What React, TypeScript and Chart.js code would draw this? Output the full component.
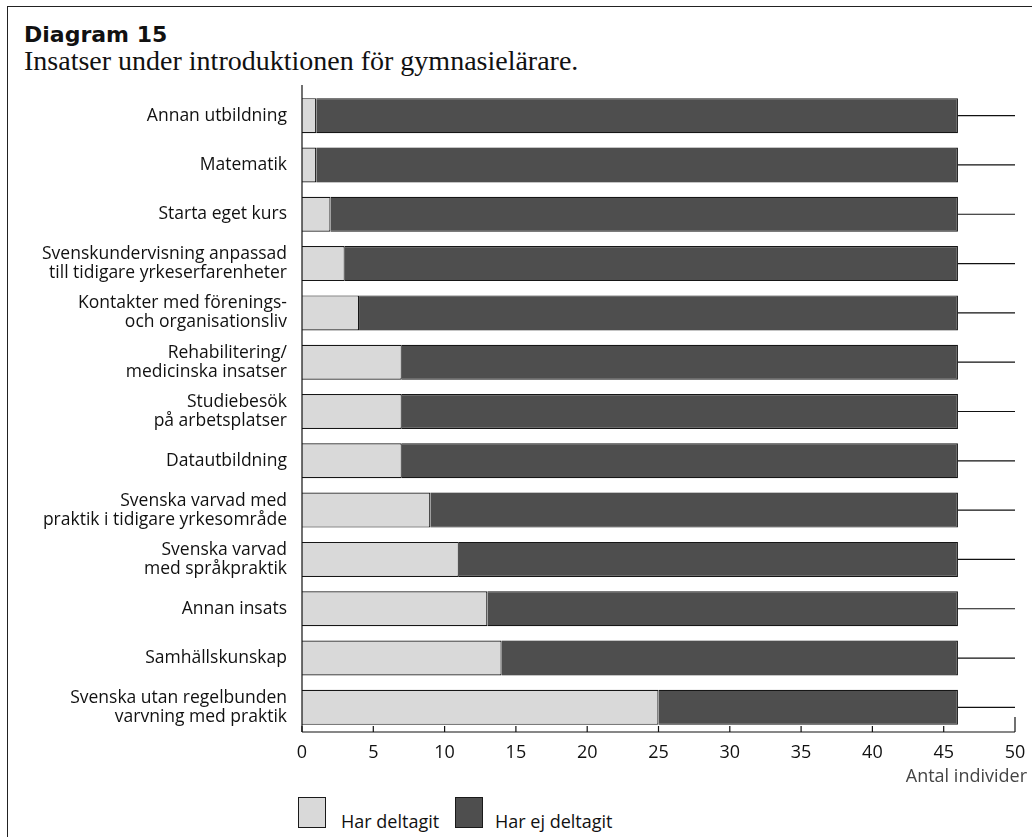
import React, { useEffect, useRef } from "react";
import { Chart, registerables } from "chart.js";

Chart.register(...registerables);

const categories: (string | string[])[] = [
  "Annan utbildning",
  "Matematik",
  "Starta eget kurs",
  ["Svenskundervisning anpassad", "till tidigare yrkeserfarenheter"],
  ["Kontakter med förenings-", "och organisationsliv"],
  ["Rehabilitering/", "medicinska insatser"],
  ["Studiebesök", "på arbetsplatser"],
  "Datautbildning",
  ["Svenska varvad med", "praktik i tidigare yrkesområde"],
  ["Svenska varvad", "med språkpraktik"],
  "Annan insats",
  "Samhällskunskap",
  ["Svenska utan regelbunden", "varvning med praktik"],
];

const deltagit = [1, 1, 2, 3, 4, 7, 7, 7, 9, 11, 13, 14, 25];
const ejDeltagit = [45, 45, 44, 43, 42, 39, 39, 39, 37, 35, 33, 32, 21];

const seriesNames = ["Har deltagit", "Har ej deltagit"];
const seriesColors = ["#d9d9d9", "#4e4e4e"];

const xMin = 0;
const xMax = 50;
const xStep = 5;

const FONT = "'Open Sans', sans-serif";

const extras = {
  id: "extras",
  afterDatasetsDraw(chart: any) {
    const { ctx, chartArea, scales } = chart;
    const x = scales.x;
    const x0 = x.getPixelForValue(xMin);
    const x1 = x.getPixelForValue(xMax);
    ctx.save();
    ctx.strokeStyle = "#111";
    ctx.lineWidth = 1.2;
    ctx.beginPath();
    ctx.moveTo(x0, chartArea.top - 6);
    ctx.lineTo(x0, chartArea.bottom);
    ctx.stroke();
    ctx.beginPath();
    ctx.moveTo(x0, chartArea.bottom);
    ctx.lineTo(x1, chartArea.bottom);
    ctx.stroke();
    x.ticks.forEach((t: any) => {
      const px = x.getPixelForValue(t.value);
      const len = t.value === xMax ? 15 : 6;
      ctx.beginPath();
      ctx.moveTo(px, chartArea.bottom);
      ctx.lineTo(px, chartArea.bottom - len);
      ctx.stroke();
    });
    const meta = chart.getDatasetMeta(1);
    meta.data.forEach((el: any) => {
      ctx.beginPath();
      ctx.moveTo(el.x, el.y);
      ctx.lineTo(x1, el.y);
      ctx.stroke();
    });
    ctx.restore();
  },
};

export default function App() {
  const ref = useRef<HTMLCanvasElement | null>(null);

  useEffect(() => {
    if (!ref.current) return;
    const chart = new Chart(ref.current, {
      type: "bar",
      data: {
        labels: categories,
        datasets: seriesNames.map((name, i) => ({
          label: name,
          data: i === 0 ? deltagit : ejDeltagit,
          backgroundColor: seriesColors[i],
          borderColor: "#161616",
          borderWidth: 1.2,
          barPercentage: 0.71,
          categoryPercentage: 1,
        })),
      },
      options: {
        indexAxis: "y",
        responsive: false,
        animation: false,
        layout: { padding: { left: 0, right: 17, top: 11, bottom: 8 } },
        plugins: {
          legend: { display: false },
          tooltip: { enabled: false },
          title: { display: false },
        },
        scales: {
          x: {
            stacked: true,
            min: xMin,
            max: xMax,
            grid: { display: false, drawTicks: false },
            border: { display: false },
            ticks: {
              stepSize: xStep,
              color: "#111",
              padding: 10,
              font: { family: FONT, size: 18 },
              maxRotation: 0,
            },
            afterFit: (s: any) => {
              s.height = 40;
              s.paddingLeft = 0;
              s.paddingRight = 0;
            },
          },
          y: {
            stacked: true,
            grid: { display: false, drawTicks: false },
            border: { display: false },
            ticks: {
              color: "#111",
              padding: 15,
              font: { family: FONT, size: 17.5, lineHeight: 1.08 },
              autoSkip: false,
            },
            afterFit: (s: any) => {
              s.width = 302;
              s.paddingTop = 0;
              s.paddingBottom = 0;
            },
          },
        },
      },
      plugins: [extras],
    } as any);
    return () => chart.destroy();
  }, []);

  const legendBox = (i: number, left: number) => (
    <div
      style={{
        position: "absolute",
        left,
        top: 797,
        width: 28,
        height: 31,
        boxSizing: "border-box",
        background: seriesColors[i],
        border: "1.5px solid #1a1a1a",
      }}
    />
  );
  const legendText = (i: number, left: number) => (
    <div
      style={{
        position: "absolute",
        left,
        top: 810,
        fontFamily: FONT,
        fontSize: 18,
        lineHeight: "22px",
        color: "#111",
        whiteSpace: "nowrap",
      }}
    >
      {seriesNames[i]}
    </div>
  );

  return (
    <div
      style={{
        position: "fixed",
        left: 0,
        top: 0,
        width: 1032,
        height: 837,
        overflow: "hidden",
        background: "#fff",
      }}
    >
      <div
        style={{
          position: "absolute",
          left: 7,
          top: 6,
          width: 1100,
          height: 900,
          borderLeft: "1.5px solid #222",
          borderTop: "1.5px solid #222",
        }}
      />
      <div
        style={{
          position: "absolute",
          left: 24,
          top: 22,
          fontFamily: "'DejaVu Sans', sans-serif",
          fontWeight: 700,
          fontSize: 22,
          color: "#111",
          lineHeight: "26px",
          whiteSpace: "nowrap",
        }}
      >
        Diagram 15
      </div>
      <div
        style={{
          position: "absolute",
          left: 24,
          top: 45,
          fontFamily: "'Liberation Serif', serif",
          fontSize: 28,
          color: "#111",
          lineHeight: "32px",
          whiteSpace: "nowrap",
        }}
      >
        Insatser under introduktionen för gymnasielärare.
      </div>
      <canvas
        ref={ref}
        width={1032}
        height={700}
        style={{ position: "absolute", left: 0, top: 80, width: 1032, height: 700 }}
      />
      <div
        style={{
          position: "absolute",
          right: 5,
          top: 764,
          fontFamily: FONT,
          fontSize: 18,
          lineHeight: "22px",
          color: "#444",
          whiteSpace: "nowrap",
        }}
      >
        Antal individer
      </div>
      {legendBox(0, 298)}
      {legendText(0, 341)}
      {legendBox(1, 455)}
      {legendText(1, 495)}
    </div>
  );
}
